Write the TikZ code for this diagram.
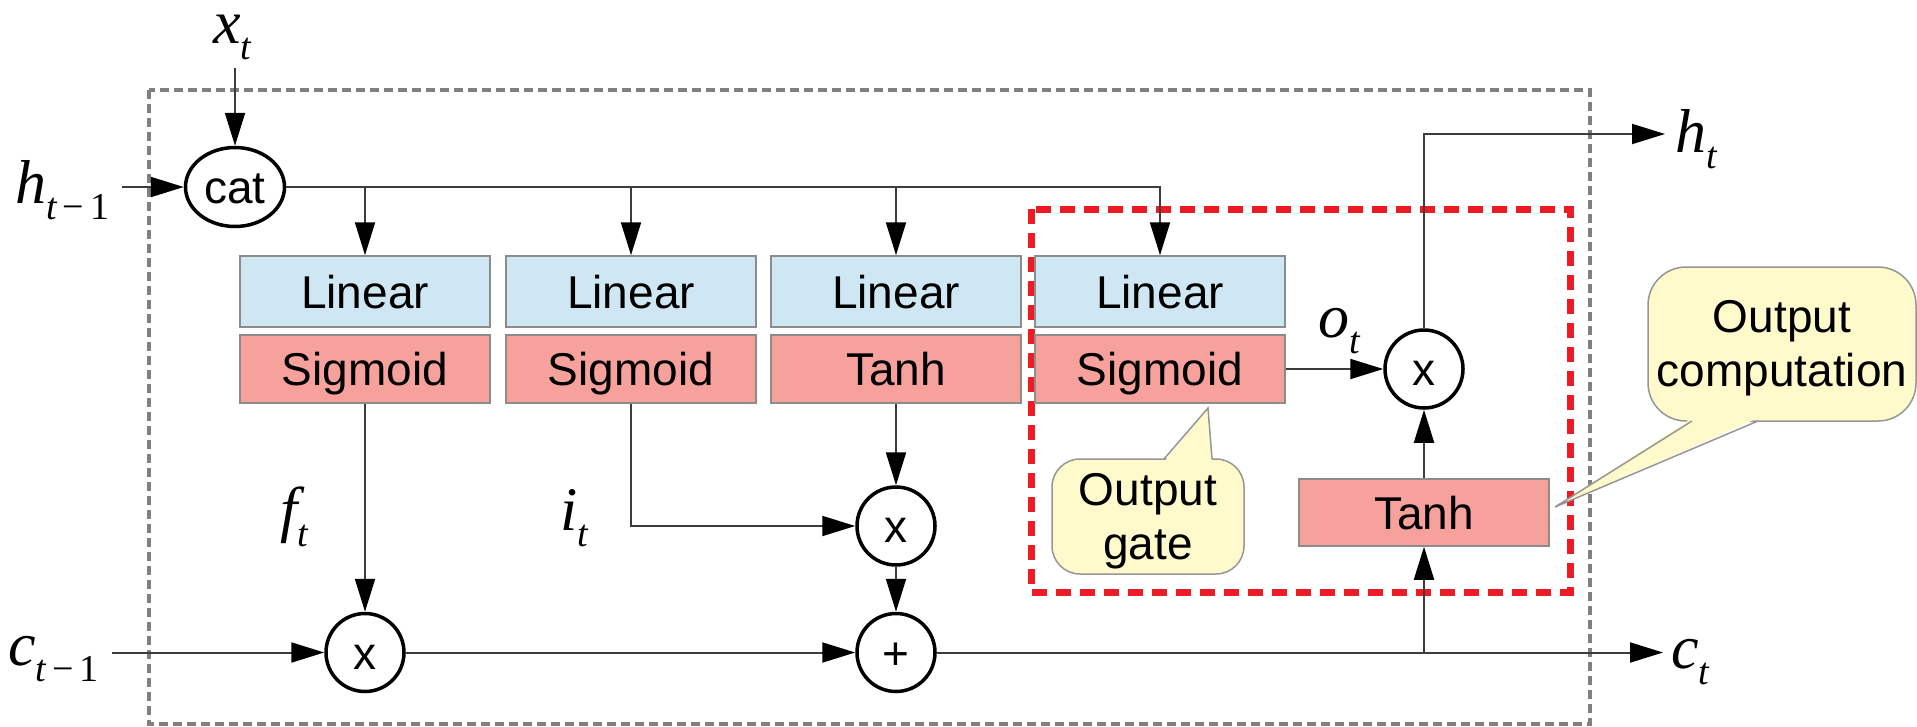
\documentclass[tikz,border=0pt]{standalone}
\usepackage{fontspec}
\setmainfont{Liberation Sans}
\newfontfamily\varserif{Liberation Serif}
\usetikzlibrary{arrows.meta,shapes.geometric,calc}

\definecolor{linblue}{RGB}{207,230,243}
\definecolor{actred}{RGB}{246,161,155}
\definecolor{boxedge}{RGB}{140,140,140}
\definecolor{wire}{RGB}{60,60,60}
\definecolor{cellframe}{RGB}{128,128,128}
\definecolor{focusred}{RGB}{237,28,36}
\definecolor{notefill}{RGB}{255,250,204}
\definecolor{noteedge}{RGB}{150,150,150}

\newcommand{\gatefont}{\fontsize{46}{53.5}\selectfont}
\newcommand{\varfont}{\fontsize{62}{62}\selectfont\varserif}
% variable with a lowered, smaller subscript
\newcommand{\vlab}[2]{{\itshape #1}\raisebox{-16pt}{\fontsize{38}{38}\selectfont #2}}
\newcommand{\tm}{{\itshape t}}
\newcommand{\tprev}{{\itshape t}\kern6pt−\kern6pt1}

\begin{document}
\begin{tikzpicture}[x=1pt,y=-1pt,
  wirestyle/.style={draw=wire,line width=2pt},
  flow/.style={wirestyle,-{Triangle[length=33pt,width=20pt,color=black]}},
  layerbox/.style={draw=boxedge,line width=1.5pt,minimum width=250pt,inner sep=0pt,
    font=\gatefont,text height=33pt,text depth=0pt},
  linbox/.style={layerbox,fill=linblue,minimum height=71pt},
  actbox/.style={layerbox,fill=actred,minimum height=68pt},
  opnode/.style={circle,draw=black,line width=3.5pt,fill=white,minimum size=78pt,
    inner sep=0pt,font=\gatefont,text height=33pt,text depth=0pt},
  varlabel/.style={anchor=base west,inner sep=0pt,font=\varfont,text height=40pt},
  notebox/.style={rectangle,draw=noteedge,fill=notefill,line width=1.5pt,inner sep=0pt},
  notetext/.style={align=center,inner sep=0pt,font=\gatefont}]

\useasboundingbox (0,0) rectangle (1917,726);

% cell boundary and output-stage highlight
\draw[draw=cellframe,line width=4pt,dash pattern=on 9pt off 5pt] (149,90) rectangle (1590,724);
\draw[draw=focusred,line width=7pt,dash pattern=on 15pt off 9pt] (1031,209) rectangle (1570,592);

% operators and layers
\node[ellipse,draw=black,line width=3.5pt,fill=white,minimum width=99pt,minimum height=79pt,
  inner sep=0pt,font=\gatefont,text height=33pt,text depth=0pt] (cat) at (235,187) {cat};

\node[linbox] (lin1) at (365,291.5) {Linear};
\node[linbox] (lin2) at (631,291.5) {Linear};
\node[linbox] (lin3) at (896,291.5) {Linear};
\node[linbox] (lin4) at (1160,291.5) {Linear};

\node[actbox] (act1) at (365,369) {Sigmoid};
\node[actbox] (act2) at (631,369) {Sigmoid};
\node[actbox] (act3) at (896,369) {Tanh};
\node[actbox] (act4) at (1160,369) {Sigmoid};

\node[layerbox,fill=actred,minimum height=67pt] (tanh2) at (1424,512.5) {Tanh};

\node[opnode] (mul1) at (365,652.5) {x};
\node[opnode] (add)  at (896,652.5) {+};
\node[opnode] (mul2) at (896,526) {x};
\node[opnode] (mul3) at (1424,369) {x};

% free ends of the inputs and outputs
\coordinate (xin)  at (235,68);
\coordinate (hin)  at (122,187);
\coordinate (cin)  at (112,652.5);
\coordinate (cout) at (1663,652.5);
\coordinate (hout) at (1665,134);

% connectors
\draw[flow] (xin) -- (cat.north);
\draw[flow] (hin) -- (cat.west);
\draw[flow] (cat.east) -| (lin4.north);
\foreach \b in {lin1,lin2,lin3} \draw[flow] (cat.east -| \b.north) -- (\b.north);
\draw[flow] (act1.south) -- (mul1.north);
\draw[flow] (cin) -- (mul1.west);
\draw[flow] (mul1.east) -- (add.west);
\draw[flow] (act2.south) |- (mul2.west);
\draw[flow] (act3.south) -- (mul2.north);
\draw[flow] (mul2.south) -- (add.north);
\draw[flow] (add.east) -- (cout);
\draw[flow] (add.east -| tanh2.south) -- (tanh2.south);
\draw[flow] (tanh2.north) -- (mul3.south);
\draw[flow] (act4.east) -- (mul3.west);
\draw[flow] (mul3.north) |- (hout);

% variable names
\node[varlabel] (xlab)  at (213,43)   {\vlab{x}{\tm}};
\node[varlabel] (hprev) at (15,203)   {\vlab{h}{\tprev}};
\node[varlabel] (cprev) at (8,665)    {\vlab{c}{\tprev}};
\node[varlabel] (flab)  at (280,530)  {\vlab{f}{\tm}};
\node[varlabel] (ilab)  at (560,530)  {\vlab{i}{\tm}};
\node[varlabel] (olab)  at (1318,337) {\vlab{o}{\tm}};
\node[varlabel] (hnext) at (1675,152) {\vlab{h}{\tm}};
\node[varlabel] (cnext) at (1671,668) {\vlab{c}{\tm}};

% callout: output gate
\node[notebox,rounded corners=28pt,minimum width=192pt,minimum height=115pt] (gatebox) at (1148,516.5) {};
\fill[notefill] (1164,462) -- (1208,408) -- (1212,462) -- cycle;
\draw[draw=noteedge,line width=1.5pt] (1164,459) -- (1208,408) -- (1212,459);
\node[notetext] (gatetext) at (1148,521.3) {Output\\gate};

% callout: output computation
\node[notebox,rounded corners=38pt,minimum width=268pt,minimum height=154pt] (compbox) at (1782,344) {};
\fill[notefill] (1692,418) -- (1555,507) -- (1758,418) -- cycle;
\draw[draw=noteedge,line width=1.5pt] (1692,421) -- (1555,507) -- (1758,421);
\node[notetext] (comptext) at (1782,348) {Output\\computation};

\end{tikzpicture}
\end{document}
